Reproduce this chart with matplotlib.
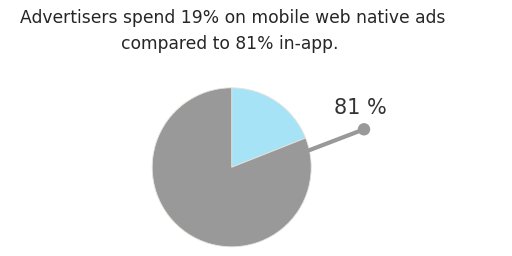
import matplotlib
matplotlib.use("Agg")
import matplotlib.pyplot as plt
from matplotlib.patches import Circle

labels = ["Mobile web", "In-app"]
values = [19, 81]
colors = ["#a6e3f7", "#999999"]
label_text = "81 %"
title_lines = ["Advertisers spend 19% on mobile web native ads", "compared to 81% in-app."]

fig = plt.figure(figsize=(5.12, 2.56), dpi=100)
ax = fig.add_axes([0, 0, 1, 1])

cx, cy, r = 231.7, 88.7, 79.5
ax.pie(values, colors=colors, startangle=90, counterclock=False,
       radius=r, center=(cx, cy), frame=True,
       wedgeprops=dict(edgecolor="#e8e4dc", linewidth=0.6))
ax.set_xlim(0, 512)
ax.set_ylim(0, 256)
ax.set_aspect("equal")
ax.axis("off")

ax.plot([308, 364], [105.3, 126.7], color="#999999", lw=3, solid_capstyle="butt")
ax.add_patch(Circle((364, 126.7), 5.5, color="#999999", zorder=5))
ax.text(360, 148, label_text, ha="center", va="center", fontsize=15,
        family="DejaVu Sans", color="#333333")

ax.text(233, 238, title_lines[0], ha="center", va="center", fontsize=12.3,
        family="DejaVu Sans", color="#262626")
ax.text(230, 212, title_lines[1], ha="center", va="center", fontsize=12.3,
        family="DejaVu Sans", color="#262626")

fig.savefig("out.png", dpi=100)
